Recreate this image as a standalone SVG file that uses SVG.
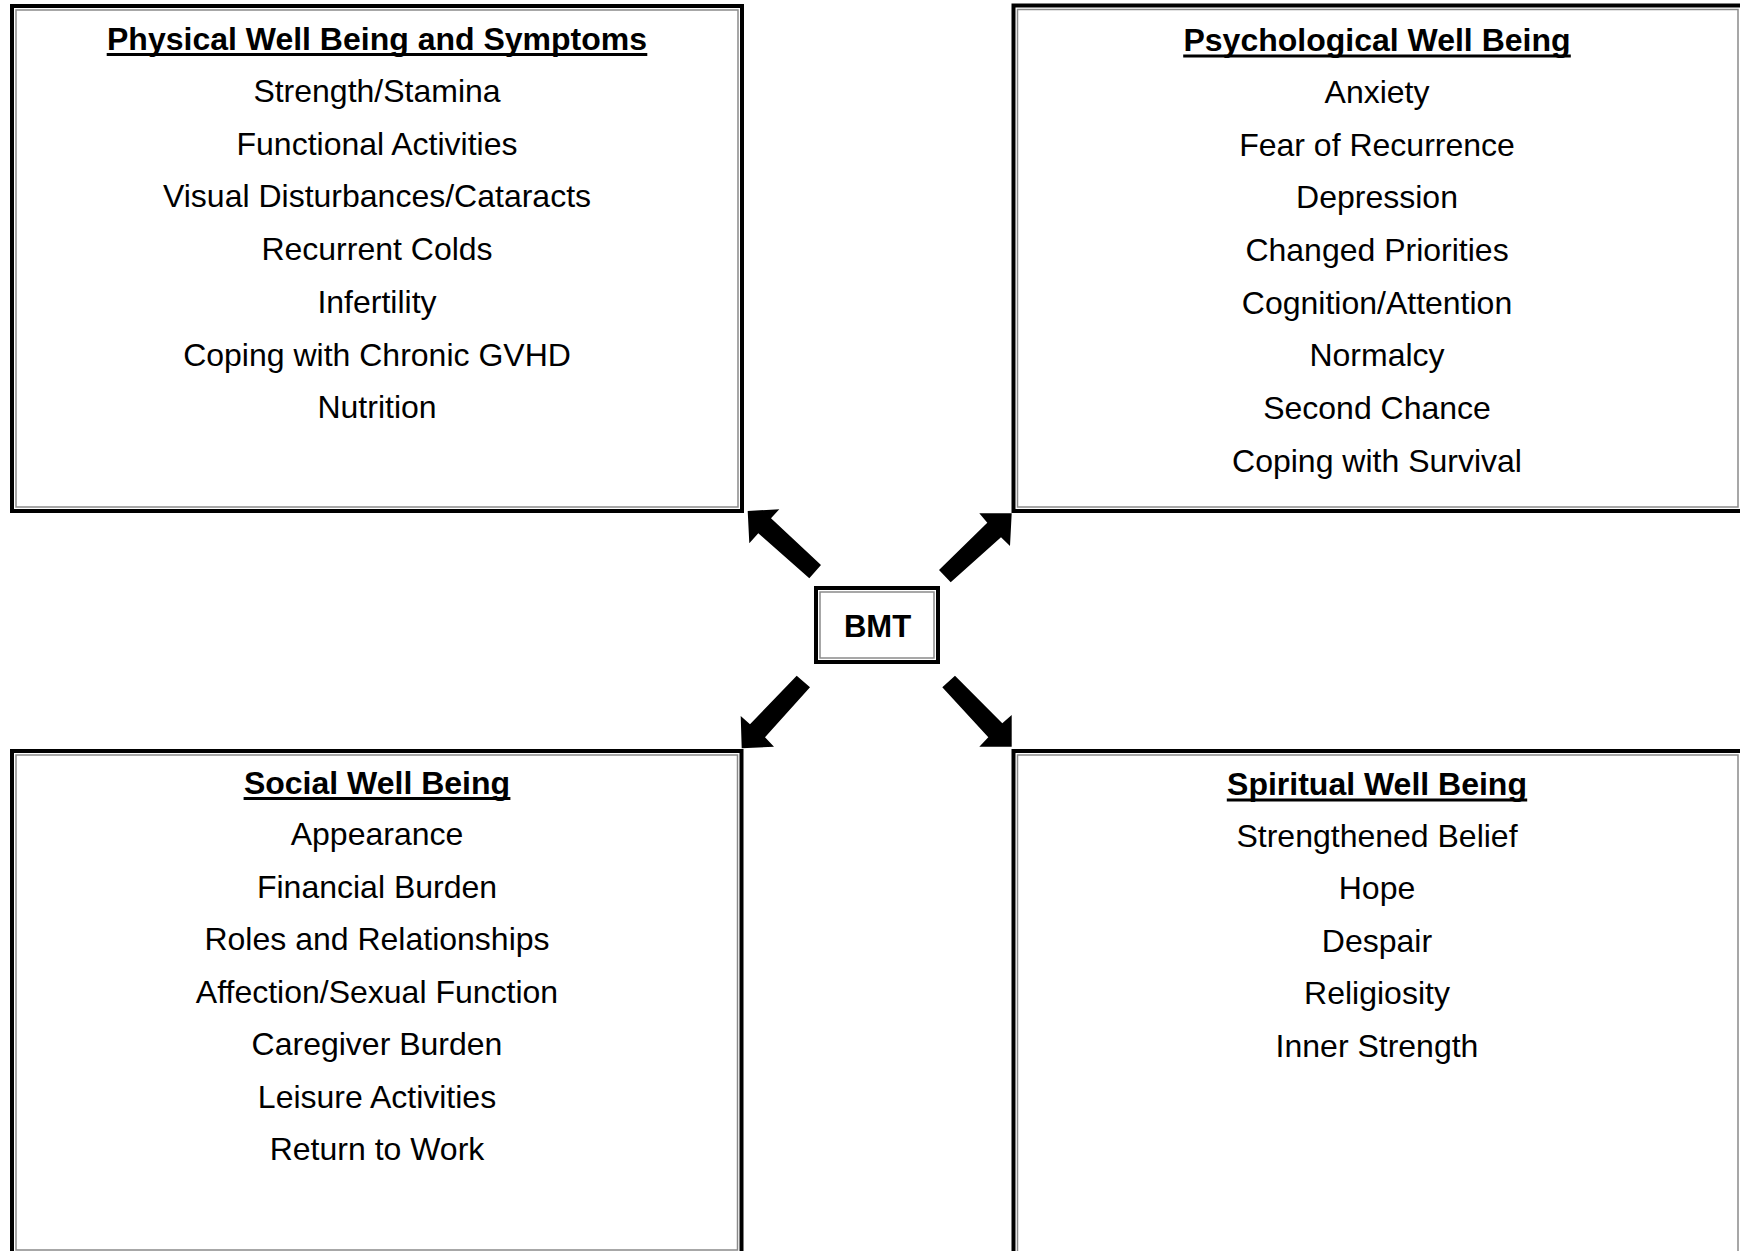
<svg xmlns="http://www.w3.org/2000/svg" width="1740" height="1251" viewBox="0 0 1740 1251">
<style>
.outer{fill:#fff;stroke:#000;stroke-width:4}
.inner{fill:none;stroke:#8a8a8a;stroke-width:1.5}
.title{font-family:"Liberation Sans",Arial,sans-serif;font-weight:bold;font-size:32px;text-anchor:middle;fill:#000}
.item{font-family:"Liberation Sans",Arial,sans-serif;font-size:32px;text-anchor:middle;fill:#000}
.ul{stroke:#000;stroke-width:3}
.arrow{fill:#000}
</style>
<rect x="0" y="0" width="1740" height="1251" fill="#fff"/>
<g id="physical">
<rect class="outer" x="12" y="6" width="730" height="505"/>
<rect class="inner" x="16" y="10" width="722" height="497"/>
<text class="title" x="377" y="49.5">Physical Well Being and Symptoms</text>
<line class="ul" x1="106.7" y1="54.5" x2="647.3" y2="54.5"/>
<text class="item" x="377" y="102">Strength/Stamina</text>
<text class="item" x="377" y="154.7">Functional Activities</text>
<text class="item" x="377" y="207.4">Visual Disturbances/Cataracts</text>
<text class="item" x="377" y="260.1">Recurrent Colds</text>
<text class="item" x="377" y="312.8">Infertility</text>
<text class="item" x="377" y="365.5">Coping with Chronic GVHD</text>
<text class="item" x="377" y="418.2">Nutrition</text>
</g>
<g id="psychological">
<rect class="outer" x="1013.5" y="5.5" width="730" height="505.5"/>
<rect class="inner" x="1017.5" y="9.5" width="720.5" height="497.5"/>
<text class="title" x="1377" y="51">Psychological Well Being</text>
<line class="ul" x1="1183.2" y1="56" x2="1570.8" y2="56"/>
<text class="item" x="1377" y="103">Anxiety</text>
<text class="item" x="1377" y="155.65">Fear of Recurrence</text>
<text class="item" x="1377" y="208.3">Depression</text>
<text class="item" x="1377" y="260.95">Changed Priorities</text>
<text class="item" x="1377" y="313.6">Cognition/Attention</text>
<text class="item" x="1377" y="366.25">Normalcy</text>
<text class="item" x="1377" y="418.9">Second Chance</text>
<text class="item" x="1377" y="471.55">Coping with Survival</text>
</g>
<g id="bmt">
<rect class="outer" x="816" y="588" width="122" height="74"/>
<rect class="inner" x="820" y="592" width="114" height="66"/>
<text class="title" x="877.5" y="636.5" style="font-size:31px">BMT</text>
</g>
<g id="social">
<rect class="outer" x="12" y="751" width="729.5" height="510"/>
<rect class="inner" x="16" y="755" width="721.5" height="495"/>
<text class="title" x="377" y="793.5">Social Well Being</text>
<line class="ul" x1="243.6" y1="798.5" x2="510.4" y2="798.5"/>
<text class="item" x="377" y="845">Appearance</text>
<text class="item" x="377" y="897.5">Financial Burden</text>
<text class="item" x="377" y="950">Roles and Relationships</text>
<text class="item" x="377" y="1002.5">Affection/Sexual Function</text>
<text class="item" x="377" y="1055">Caregiver Burden</text>
<text class="item" x="377" y="1107.5">Leisure Activities</text>
<text class="item" x="377" y="1160">Return to Work</text>
</g>
<g id="spiritual">
<rect class="outer" x="1013.5" y="751" width="730" height="510"/>
<rect class="inner" x="1017.5" y="755" width="720.5" height="510"/>
<text class="title" x="1377" y="795">Spiritual Well Being</text>
<line class="ul" x1="1226.8" y1="800" x2="1527.2" y2="800"/>
<text class="item" x="1377" y="846.5">Strengthened Belief</text>
<text class="item" x="1377" y="899">Hope</text>
<text class="item" x="1377" y="951.5">Despair</text>
<text class="item" x="1377" y="1004">Religiosity</text>
<text class="item" x="1377" y="1056.5">Inner Strength</text>
</g>
<g id="connectors">
<polygon class="arrow" points="747.7,511 779.3,509.3 771,518.3 821,565 809.3,578.3 758.3,533.3 749.3,543.3"/>
<polygon class="arrow" points="1011.7,513.3 979.3,513.3 987.3,522.7 939,570 950.7,582.3 1001,537.3 1010,546"/>
<polygon class="arrow" points="741.7,748.3 740.7,716 750,724.3 796.7,675.7 810,687.3 765,737.3 774,746.7"/>
<polygon class="arrow" points="1011.7,746.7 979.3,746.7 988.3,737.3 942.3,687.3 955,675.7 1002.3,723.3 1011.7,715"/>
</g>
</svg>
